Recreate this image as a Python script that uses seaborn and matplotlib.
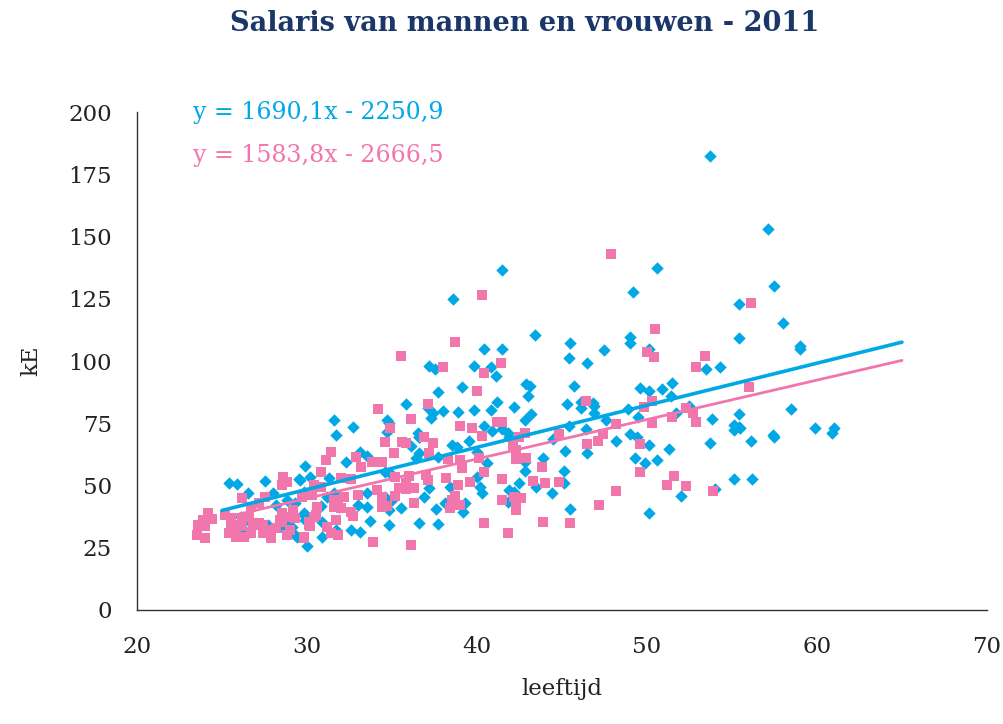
import matplotlib
matplotlib.use("Agg")
import matplotlib.pyplot as plt
import seaborn as sns
import numpy as np
import pandas as pd

# ---- data (age in years, salary in kE) ----
men_age = [53.7,57.1,57.5,55.4,58.0,55.4,59.0,59.0,53.5,54.3,58.5,53.8,55.4,55.1,55.4,55.1,55.5,53.7,56.1,57.4,57.5,59.9,61.0,60.9,55.1,56.2,54.0,
           50.6,49.2,49.0,49.0,50.1,45.5,45.4,46.5,47.5,45.7,49.6,50.1,50.9,51.5,51.4,46.1,46.8,46.1,46.9,46.9,45.3,48.9,49.5,51.7,52.5,45.4,47.6,46.4,48.2,49.0,49.4,50.1,51.3,45.2,46.5,49.3,49.9,50.6,45.1,45.1,52.0,45.5,50.1,
           41.5,38.6,43.4,40.4,41.5,37.2,37.5,39.8,40.8,41.1,39.1,37.7,42.9,43.1,43.0,37.1,37.4,37.3,38.0,38.9,39.8,40.8,41.2,42.2,43.2,42.8,40.4,40.9,41.5,41.8,36.6,38.5,38.8,39.5,40.0,37.7,40.6,41.9,42.8,42.8,43.9,43.5,44.4,40.0,40.2,40.3,42.5,41.9,42.2,38.4,37.2,36.9,38.1,39.3,39.2,41.8,37.6,37.7,36.6,44.5,
           35.8,31.6,32.7,31.7,34.8,34.7,36.5,36.6,36.4,33.1,33.5,32.3,29.9,31.3,30.2,29.6,34.6,34.9,34.6,35.0,34.8,33.5,33.0,33.5,31.9,33.7,34.8,32.6,33.1,30.0,30.9,30.0,29.8,29.8,30.8,35.5,
           25.4,25.9,27.5,29.5,26.5,28.0,31.2,31.6,28.8,28.2,29.3,29.8,29.9,26.5,26.2,26.4,27.7,28.8,29.1,28.6,29.3,29.4,26.1,31.7,30.9,
           34.7,36.6,36.1]
men_salary = [182.3,153.0,130.0,122.8,115.4,109.1,106.0,105.0,97.0,97.5,80.7,76.6,78.7,74.5,73.5,72.3,73.0,67.0,68.0,70.3,69.5,73.2,73.0,71.2,52.7,52.6,48.7,
              137.6,127.8,109.5,107.3,105.0,107.3,101.1,99.3,104.4,90.0,89.3,88.0,88.6,91.0,85.9,83.6,83.0,81.2,81.8,79.1,82.7,80.7,77.6,79.0,81.9,73.9,76.3,72.6,67.9,70.6,69.4,66.3,64.5,63.9,63.2,60.9,58.9,60.2,55.9,50.9,45.8,40.4,38.8,
              136.5,124.8,110.4,104.7,104.8,98.1,97.0,98.1,97.5,94.2,89.7,87.7,90.8,90.0,86.1,81.1,79.3,77.0,79.9,79.4,80.3,80.3,83.7,81.7,78.7,76.3,74.0,71.9,72.7,71.0,69.6,66.3,65.6,67.9,63.6,61.3,59.2,69.6,59.3,55.9,60.9,49.3,46.9,53.5,49.5,46.9,50.9,48.2,47.5,49.5,48.9,45.5,42.9,42.9,39.5,43.5,40.4,34.4,35.1,68.6,
              82.7,76.3,73.6,70.3,75.2,71.6,71.0,62.9,60.9,63.6,61.8,59.6,57.8,52.9,53.3,52.2,55.5,54.9,45.5,44.2,40.2,47.1,42.2,41.5,41.5,35.9,34.1,32.1,31.4,35.7,29.4,25.7,47.5,38.2,41.8,40.8,
              51.1,50.5,51.9,52.6,46.9,46.9,45.5,46.9,44.2,42.2,42.9,38.8,36.1,36.1,32.8,30.1,34.1,34.8,33.2,32.8,30.1,29.5,37.5,32.1,35.5,
              76.3,69.4,65.9]

women_age = [56.1,53.4,56.0,53.9,
             47.9,50.5,50.0,50.4,52.9,46.4,50.3,49.8,50.3,51.5,52.3,52.7,52.9,48.2,47.4,47.1,46.5,49.6,49.6,51.6,51.2,52.3,48.2,47.2,45.5,
             40.3,38.7,41.4,38.0,40.4,40.0,37.1,39.0,39.7,40.3,41.2,41.5,42.8,42.5,44.8,36.9,37.4,40.1,39.0,39.1,38.3,37.2,40.4,42.1,42.3,42.3,42.9,43.8,43.3,44.0,44.8,41.5,39.6,38.2,37.0,37.1,38.9,38.7,38.5,38.4,39.0,41.5,42.2,42.6,42.3,42.3,40.4,41.8,43.9,
             34.2,34.9,36.1,34.6,35.6,35.8,35.1,31.4,31.1,32.9,33.8,34.4,33.2,30.8,32.0,32.6,30.4,35.2,35.8,36.0,36.3,35.8,35.2,35.4,34.1,34.4,34.7,34.4,33.0,32.2,31.8,31.6,32.0,32.6,32.7,30.5,30.2,31.8,29.8,33.9,36.1,36.3,35.5,
             28.6,28.8,28.5,30.8,26.2,27.5,29.7,30.3,31.7,31.6,27.2,26.7,29.2,29.0,29.3,30.6,30.4,30.1,24.2,23.9,24.4,23.6,24.0,23.5,24.0,25.5,26.2,25.9,25.5,26.2,25.4,25.8,26.3,25.8,26.6,26.8,26.7,27.2,27.4,27.4,27.8,28.2,28.4,27.9,28.5,28.5,29.0,28.8,29.8,30.1,25.2,31.2,31.4,31.7]
women_salary = [123.2,102.1,89.7,47.8,
                143.2,112.9,103.7,101.7,97.7,84.1,84.1,81.7,75.0,77.6,81.0,79.2,75.4,74.6,70.6,67.9,66.5,66.5,55.3,53.9,50.2,49.8,47.8,42.0,35.1,
                126.5,107.5,99.3,97.5,95.3,87.8,82.6,73.9,73.2,70.0,75.6,75.6,71.0,69.6,70.6,69.6,67.2,60.9,60.2,56.9,60.8,62.9,55.6,66.3,64.3,60.6,60.9,57.6,51.8,50.9,51.5,52.6,51.3,52.9,54.2,52.2,50.2,45.8,44.2,40.8,42.2,44.2,45.5,44.8,43.0,40.2,34.8,30.8,35.5,
                80.7,73.0,76.6,67.6,67.6,66.9,62.9,63.6,60.2,61.6,59.6,59.6,57.6,55.5,52.9,52.6,50.2,53.4,50.9,53.7,49.1,48.5,45.8,49.1,48.2,45.5,41.8,41.5,46.2,45.5,44.2,44.2,40.8,39.5,37.8,38.2,33.7,30.1,29.4,27.4,26.1,42.9,102.0,
                53.5,51.4,50.2,49.5,44.9,45.5,45.5,46.2,44.2,41.5,42.9,41.5,40.2,37.5,36.8,41.5,37.5,35.5,38.8,36.1,36.6,34.3,33.7,30.1,28.8,36.8,36.1,34.3,32.8,33.7,31.0,29.5,29.5,32.1,37.5,34.1,30.8,35.1,34.1,30.8,32.1,32.8,36.1,29.1,39.0,35.5,32.1,30.1,28.8,34.1,38.2,33.5,30.8,36.1]

series_names = ["mannen", "vrouwen"]
# trend lines (kE = slope * age + intercept), from the shown equations
trend_slope = [1.6901, 1.5838]
trend_intercept = [-2.2509, -2.6665]
trend_range = [25, 65]
equation_labels = ["y = 1690,1x - 2250,9", "y = 1583,8x - 2666,5"]

title = "Salaris van mannen en vrouwen - 2011"
x_label = "leeftijd"
y_label = "kE"
x_ticks = [20, 30, 40, 50, 60, 70]
y_ticks = [0, 25, 50, 75, 100, 125, 150, 175, 200]

# ---- styling ----
BLUE = "#00A8E6"
PINK = "#F176AC"
NAVY = "#1B3668"

sns.set_theme(style="white")
plt.rcParams["font.family"] = ["DejaVu Serif"]

df = pd.concat([
    pd.DataFrame({"age": men_age, "salary": men_salary, "group": series_names[0]}),
    pd.DataFrame({"age": women_age, "salary": women_salary, "group": series_names[1]}),
], ignore_index=True)

fig = plt.figure(figsize=(10.04, 7.24), dpi=100)
ax = fig.add_axes([0.1365, 0.1575, 0.8465, 0.6875])

sns.scatterplot(data=df[df.group == series_names[0]], x="age", y="salary", marker="D",
                color=BLUE, s=40, linewidth=0, ax=ax, legend=False, zorder=2)
sns.scatterplot(data=df[df.group == series_names[1]], x="age", y="salary", marker="s",
                color=PINK, s=46, linewidth=0, ax=ax, legend=False, zorder=3)

for i, col in enumerate([BLUE, PINK]):
    xs = np.array(trend_range, dtype=float)
    ys = trend_slope[i] * xs + trend_intercept[i]
    sns.lineplot(x=xs, y=ys, color=col, linewidth=2.6 if i == 0 else 2.0, ax=ax, zorder=4)

ax.set_xlim(20, 70)
ax.set_ylim(0, 200)
ax.set_xticks(x_ticks)
ax.set_yticks(y_ticks)
ax.tick_params(axis="both", labelsize=16.5, length=6, width=1, color="#333333",
               direction="out", labelcolor="#222222")
ax.tick_params(axis="y", pad=12)
ax.tick_params(axis="x", pad=13)
for side in ["top", "right"]:
    ax.spines[side].set_visible(False)
for side in ["left", "bottom"]:
    ax.spines[side].set_color("#333333")
    ax.spines[side].set_linewidth(1)

ax.set_xlabel(x_label, fontsize=16.5, color="#222222", labelpad=14)
ax.set_ylabel(y_label, fontsize=16.5, color="#222222", labelpad=19)

ax.text(0.066, 0.999, equation_labels[0], transform=ax.transAxes, color=BLUE,
        fontsize=17, va="center", ha="left")
ax.text(0.066, 0.914, equation_labels[1], transform=ax.transAxes, color=PINK,
        fontsize=17, va="center", ha="left")

fig.text(0.523, 0.967, title, ha="center", va="center", fontsize=19.5,
         fontweight="bold", color=NAVY)

fig.savefig("out.png", dpi=100)
